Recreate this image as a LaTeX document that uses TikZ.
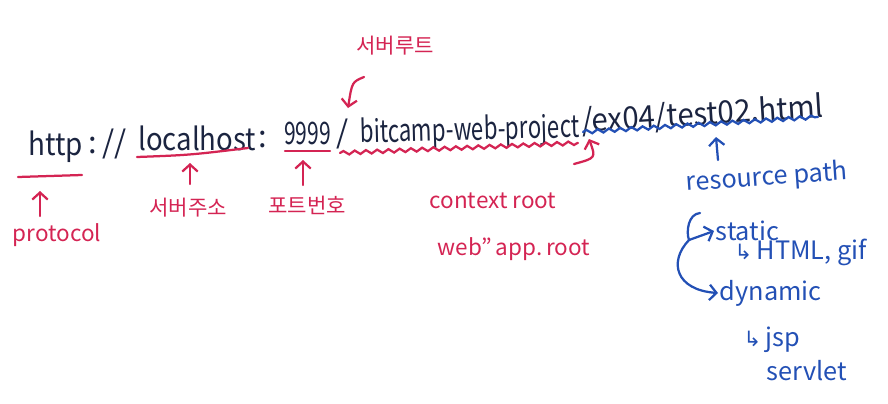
\documentclass[tikz,border=0pt]{standalone}
\usepackage{fontspec}
\setmainfont{Noto Sans CJK KR}
\newfontfamily\symfont{DejaVu Sans}
\usepackage{xcolor}
\usetikzlibrary{arrows.meta, positioning, decorations.pathmorphing}

\definecolor{inkNavy}{HTML}{1B2440}
\definecolor{inkRed}{HTML}{D42453}
\definecolor{inkBlue}{HTML}{2350B5}

\newcommand{\squeeze}[2]{\scalebox{#1}[1]{#2}}

\tikzset{
  urltext/.style={inner sep=0pt, anchor=base west, text=inkNavy,
    font=\fontsize{22}{26}\selectfont},
  redlabel/.style={inner sep=1pt, text=inkRed, font=\fontsize{16}{19}\selectfont},
  korlabel/.style={inner sep=1pt, text=inkRed, font=\fontsize{15}{18}\selectfont},
  bluelabel/.style={inner sep=1pt, text=inkBlue, font=\fontsize{18}{21}\selectfont},
  redpen/.style={draw=inkRed, line width=1.6pt, line cap=round},
  bluepen/.style={draw=inkBlue, line width=1.6pt, line cap=round},
  wavy/.style={decorate, decoration={snake, amplitude=1.3pt, segment length=8pt}},
  barb/.style={-{Straight Barb[length=5pt, width=11pt]}},
}

\begin{document}
\begin{tikzpicture}[x=0.025cm, y=-0.025cm]
  \useasboundingbox (0,0) rectangle (888,403);

  % the address itself
  \node[urltext] (http)   at (28,155)  {\squeeze{0.9}{http}};
  \node[urltext] (sep)    at (88,153)  {:\,//};
  \node[urltext] (host)   at (138,150) {\squeeze{0.89}{localhost}};
  \node[urltext] (colon)  at (258,147) {:};
  \node[urltext] (port)   at (284,144) {\squeeze{0.68}{9999}};
  \node[urltext] (slash)  at (336,143) {/};
  \node[urltext, rotate=1.5] (ctx) at (360,143) {\squeeze{0.72}{bitcamp-web-project}};
  \node[urltext, rotate=3.5] (res) at (582,132) {\squeeze{0.95}{/ex04/test02.html}};

  % underlines
  \coordinate (httpL) at (18,177);
  \coordinate (httpR) at (82,175);
  \draw[redpen] (httpL) -- (httpR);
  \coordinate (hostL) at (137,157);
  \coordinate (hostR) at (248,148);
  \draw[redpen] (hostL) .. controls (190,155) .. (hostR);
  \coordinate (portL) at (285,151);
  \coordinate (portR) at (330,151);
  \draw[redpen] (portL) -- (portR);
  \coordinate (ctxL) at (340,153);
  \coordinate (ctxR) at (578,143);
  \draw[redpen, wavy] (ctxL) -- (ctxR);
  \coordinate (resL) at (583,132);
  \coordinate (resR) at (818,117);
  \draw[bluepen, wavy] (resL) -- (resR);

  % red labels
  \node[redlabel] (protocol) at (57,235)  {protocol};
  \node[korlabel] (addr)     at (188,208) {서버주소};
  \node[korlabel] (portno)   at (307,205) {포트번호};
  \node[korlabel] (root)     at (395,46)  {서버루트};
  \node[redlabel] (ctxroot)  at (493,201) {context root};
  \node[redlabel] (webapp)   at (514,249) {web"\,app.\,root};

  \coordinate (protoTip) at (40,191);
  \coordinate (protoEnd) at (40,216);
  \draw[redpen, barb] (protoEnd) -- (protoTip);
  \coordinate (addrTip) at (190,163);
  \coordinate (addrEnd) at (190,184);
  \draw[redpen, barb] (addrEnd) -- (addrTip);
  \coordinate (portTip) at (303,160);
  \coordinate (portEnd) at (303,185);
  \draw[redpen, barb] (portEnd) -- (portTip);
  \coordinate (rootEnd) at (364,77);
  \coordinate (rootTip) at (348,108);
  \draw[redpen, barb] (rootEnd) .. controls (352,82) .. (rootTip);
  \coordinate (ctxEnd) at (574,164);
  \coordinate (ctxTip) at (589,139);
  \draw[redpen, barb] (ctxEnd) .. controls (596,158) .. (ctxTip);

  % blue part
  \node[bluelabel, rotate=4] (respath) at (767,178) {resource path};
  \coordinate (resTip) at (716,137);
  \coordinate (resEnd) at (718,160);
  \draw[bluepen, barb] (resEnd) -- (resTip);

  \node[bluelabel, anchor=west] (static)  at (714,231) {static};
  \node[bluelabel, anchor=west] (html)    at (733,252) {{\symfont\fontsize{15}{16}\selectfont ↳}\,HTML, gif};
  \node[bluelabel, anchor=west] (dynamic) at (718,293) {dynamic};
  \node[bluelabel, anchor=west] (jsp)     at (742,340) {{\symfont\fontsize{15}{16}\selectfont ↳}\,jsp};
  \node[bluelabel, anchor=west] (servlet) at (765,371) {servlet};

  \coordinate (brTop) at (700,213);
  \coordinate (brMid) at (689,240);
  \draw[bluepen] (brTop) .. controls (688,214) and (686,232) .. (brMid);
  \draw[bluepen, barb] (brMid) -- (static.west);
  \draw[bluepen, barb] (brMid) .. controls (668,262) and (676,290) .. (dynamic.west);
\end{tikzpicture}
\end{document}
